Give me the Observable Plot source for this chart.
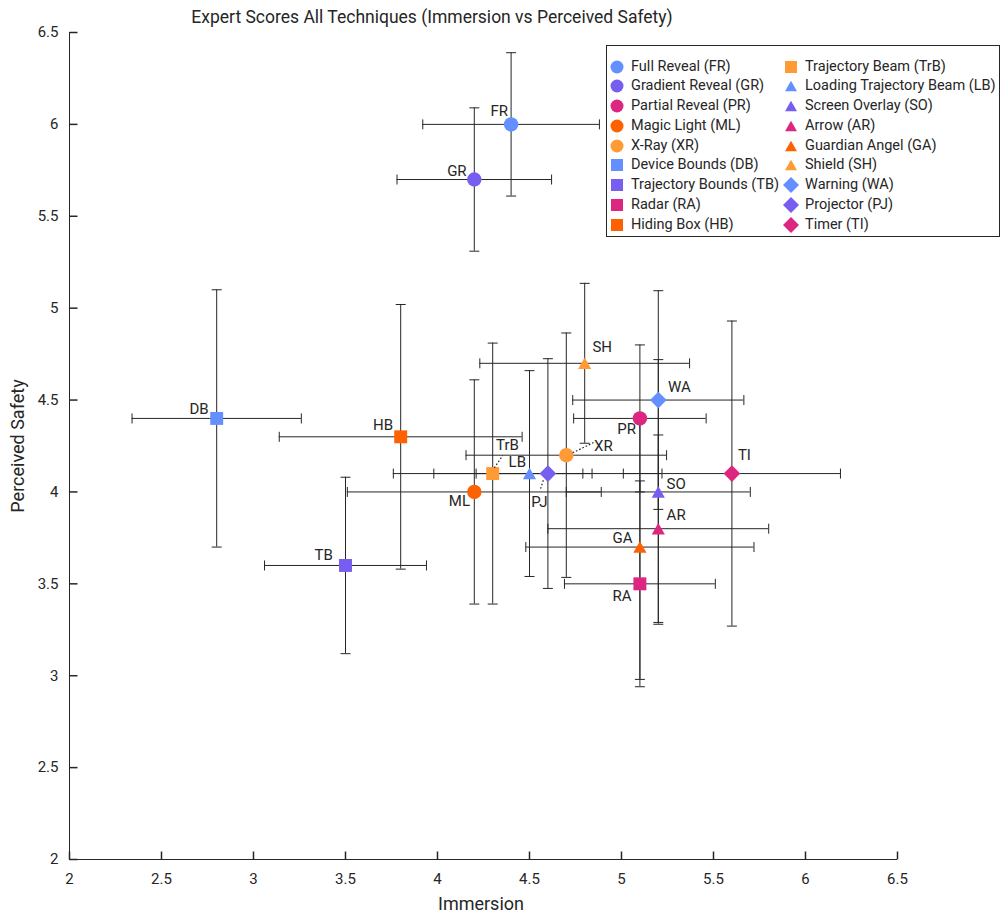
<!DOCTYPE html>
<html>
<head>
<meta charset="utf-8">
<script src="https://cdn.jsdelivr.net/npm/d3@7"></script>
<script src="https://cdn.jsdelivr.net/npm/@observablehq/plot@0.6"></script>
<style>
  html, body { margin: 0; padding: 0; background: #fff; }
  body { font-family: Roboto, "Open Sans", sans-serif; color: #262626; }
  #wrap { position: relative; width: 1002px; height: 914px; overflow: hidden; }
  #chart { position: absolute; left: 0; top: 0; }
  .title { position: absolute; left: 0; width: 864px; top: 7px; line-height: 20px; text-align: center; font-size: 17.5px; }
  .xlabel { position: absolute; left: 381px; width: 200px; top: 894px; line-height: 20px; text-align: center; font-size: 18px; }
  .ylabel { position: absolute; left: 18px; top: 446px; transform: translate(-50%, -50%) rotate(-90deg); white-space: nowrap; font-size: 18px; line-height: 20px; }
  #legend { position: absolute; left: 606px; top: 45px; width: 394px; height: 192px; box-sizing: border-box; border: 1px solid #262626; background: #fff; }
  .item { position: absolute; height: 20px; line-height: 20px; font-size: 14.5px; white-space: nowrap; }
  .item svg { position: absolute; left: 0; top: 0; }
  .item span { position: absolute; left: 20px; top: 0; }
</style>
</head>
<body>
<div id="wrap">
  <div id="chart"></div>
  <div class="title">Expert Scores All Techniques (Immersion vs Perceived Safety)</div>
  <div class="xlabel">Immersion</div>
  <div class="ylabel">Perceived Safety</div>
  <div id="legend"></div>
</div>
<script>
// ---- data ----
const codes = ["FR","GR","PR","ML","XR","DB","TB","RA","HB","TrB","LB","SO","AR","GA","SH","WA","PJ","TI"];
const names = ["Full Reveal","Gradient Reveal","Partial Reveal","Magic Light","X-Ray","Device Bounds","Trajectory Bounds","Radar","Hiding Box","Trajectory Beam","Loading Trajectory Beam","Screen Overlay","Arrow","Guardian Angel","Shield","Warning","Projector","Timer"];
const immersion    = [4.4, 4.2, 5.1, 4.2, 4.7, 2.8, 3.5, 5.1, 3.8, 4.3, 4.5, 5.2, 5.2, 5.1, 4.8, 5.2, 4.6, 5.6];
const safety       = [6.0, 5.7, 4.4, 4.0, 4.2, 4.4, 3.6, 3.5, 4.3, 4.1, 4.1, 4.0, 3.8, 3.7, 4.7, 4.5, 4.1, 4.1];
const immersionErr = [0.48, 0.42, 0.36, 0.69, 0.545, 0.46, 0.44, 0.41, 0.66, 0.54, 0.29, 0.50, 0.60, 0.62, 0.57, 0.465, 0.62, 0.59];
const safetyErr    = [0.39, 0.39, 0.40, 0.61, 0.665, 0.70, 0.48, 0.56, 0.72, 0.71, 0.56, 0.72, 0.51, 0.72, 0.435, 0.595, 0.625, 0.83];
const colorGroup = ["g1","g2","g3","g4","g5","g1","g2","g3","g4","g5","g1","g2","g3","g4","g5","g1","g2","g3"];
const shapeGroup = ["circle","circle","circle","circle","circle","square","square","square","square","square","triangle","triangle","triangle","triangle","triangle","diamond","diamond","diamond"];
const xTicks = [2, 2.5, 3, 3.5, 4, 4.5, 5, 5.5, 6, 6.5];
const yTicks = [2, 2.5, 3, 3.5, 4, 4.5, 5, 5.5, 6, 6.5];

// ---- styles ----
const groups = ["g1","g2","g3","g4","g5"];
const palette = ["#648FFF","#785EF0","#DC267F","#FE6100","#FF9A35"];
const ink = "#262626";
const labelPlace = {
  FR: ["end", -3, -13.7], GR: ["end", -7.7, -8], PR: ["end", -4, 11.1], ML: ["end", -4.3, 9.3],
  XR: ["start", 27.7, -9], DB: ["end", -8, -9.3], TB: ["end", -12.6, -10.7], RA: ["end", -8.3, 12.4],
  HB: ["end", -7.6, -11.7], TrB: ["start", 3.3, -28.3], LB: ["end", -3.5, -11], SO: ["start", 8.3, -7.4],
  AR: ["start", 8.3, -13.9], GA: ["end", -7.3, -9.2], SH: ["start", 7.7, -16.4], WA: ["start", 9.6, -12.8],
  PJ: ["middle", -8.6, 29], TI: ["start", 6, -18.3]
};
const leaders = { TrB: [[1.6, -5.7], [10, -18]], XR: [[6.4, -2.4], [28, -13]], PJ: [[-4.6, 6.7], [-7.6, 16]] };
const markerStyle = {
  circle:   {symbol: "circle",   r: 7.2, dy: 0},
  square:   {symbol: "square",   r: 7.3, dy: 0},
  triangle: {symbol: "triangle", r: 4.9, dy: 1.9},
  diamond:  {symbol: "diamond2", r: 7.5, dy: 0}
};

const rows = codes.map((c, i) => ({
  code: c, name: names[i], x: immersion[i], y: safety[i],
  ex: immersionErr[i], ey: safetyErr[i], group: colorGroup[i], shape: shapeGroup[i]
}));

const hcap = {draw(ctx) { ctx.moveTo(-5, 0); ctx.lineTo(5, 0); }};
const vcap = {draw(ctx) { ctx.moveTo(0, -5); ctx.lineTo(0, 5); }};
const xTickMark = {draw(ctx) { ctx.moveTo(0, 0); ctx.lineTo(0, -8); }};
const yTickMark = {draw(ctx) { ctx.moveTo(0, 0); ctx.lineTo(8, 0); }};
const seg = (a, b) => ({draw(ctx) { ctx.moveTo(a[0], a[1]); ctx.lineTo(b[0], b[1]); }});

const barStyle = {stroke: ink, strokeWidth: 1};
const capStyle = {stroke: ink, strokeWidth: 1, fill: "none"};

const marks = [
  Plot.ruleX(rows, {x: "x", y1: d => d.y - d.ey, y2: d => d.y + d.ey, ...barStyle}),
  Plot.ruleY(rows, {y: "y", x1: d => d.x - d.ex, x2: d => d.x + d.ex, ...barStyle}),
  Plot.dot(rows, {x: "x", y: d => d.y - d.ey, symbol: hcap, ...capStyle}),
  Plot.dot(rows, {x: "x", y: d => d.y + d.ey, symbol: hcap, ...capStyle}),
  Plot.dot(rows, {x: d => d.x - d.ex, y: "y", symbol: vcap, ...capStyle}),
  Plot.dot(rows, {x: d => d.x + d.ex, y: "y", symbol: vcap, ...capStyle}),
  ...Object.entries(markerStyle).map(([shape, s]) =>
    Plot.dot(rows.filter(d => d.shape === shape), {x: "x", y: "y", fill: "group", stroke: "none", symbol: s.symbol, r: s.r, dy: s.dy})
  ),
  ...rows.map(d => {
    const [anchor, dx, dy] = labelPlace[d.code];
    return Plot.text([d], {x: "x", y: "y", text: "code", textAnchor: anchor, dx, dy, fontSize: 15, fill: ink});
  }),
  ...Object.entries(leaders).map(([code, [a, b]]) =>
    Plot.dot(rows.filter(d => d.code === code), {x: "x", y: "y", symbol: seg(a, b), stroke: ink, strokeWidth: 1.2, fill: "none", strokeDasharray: "1.6,2"})
  ),
  Plot.ruleY([2], {stroke: ink, strokeWidth: 1}),
  Plot.ruleX([2], {stroke: ink, strokeWidth: 1}),
  Plot.dot(xTicks, {x: d => d, frameAnchor: "bottom", symbol: xTickMark, stroke: ink, fill: "none"}),
  Plot.dot(yTicks, {y: d => d, frameAnchor: "left", symbol: yTickMark, stroke: ink, fill: "none"}),
  Plot.axisX({ticks: xTicks, tickFormat: d => String(d), tickSize: 0, tickPadding: 14, label: null, fontSize: 15}),
  Plot.axisY({ticks: yTicks, tickFormat: d => String(d), tickSize: 0, tickPadding: 11, label: null, fontSize: 15})
];

const chart = Plot.plot({
  width: 1002, height: 914,
  marginTop: 32, marginLeft: 69, marginRight: 105, marginBottom: 55,
  x: {domain: [2, 6.5]},
  y: {domain: [2, 6.5]},
  color: {type: "ordinal", domain: groups, range: palette},
  style: {fontFamily: "Roboto, 'Open Sans', sans-serif", fontSize: "15px", color: ink, background: "#fff"},
  marks
});
document.getElementById("chart").appendChild(chart);

// ---- legend ----
const legend = d3.select("#legend");
const legendSym = {
  circle:   {type: d3.symbolCircle,   size: 133, dy: 0},
  square:   {type: d3.symbolSquare,   size: 144, dy: 0},
  triangle: {type: d3.symbolTriangle, size: 62,  dy: 1.7},
  diamond:  {type: d3.symbolDiamond2, size: 163, dy: 0}
};
const colorOf = g => palette[groups.indexOf(g)];
rows.forEach((d, i) => {
  const col = i < 9 ? 0 : 1;
  const row = i < 9 ? i : i - 9;
  const item = legend.append("div").attr("class", "item")
    .style("left", (col === 0 ? 0 : 174) + "px")
    .style("top", (10.5 + row * 19.75) + "px");
  const s = legendSym[d.shape];
  const svg = item.append("svg").attr("width", 22).attr("height", 20);
  svg.append("path")
    .attr("d", d3.symbol().type(s.type).size(s.size)())
    .attr("transform", `translate(10,${10 + s.dy})`)
    .attr("fill", colorOf(d.group));
  item.append("span").style("left", "24px").text(`${d.name} (${d.code})`);
});
</script>
</body>
</html>
